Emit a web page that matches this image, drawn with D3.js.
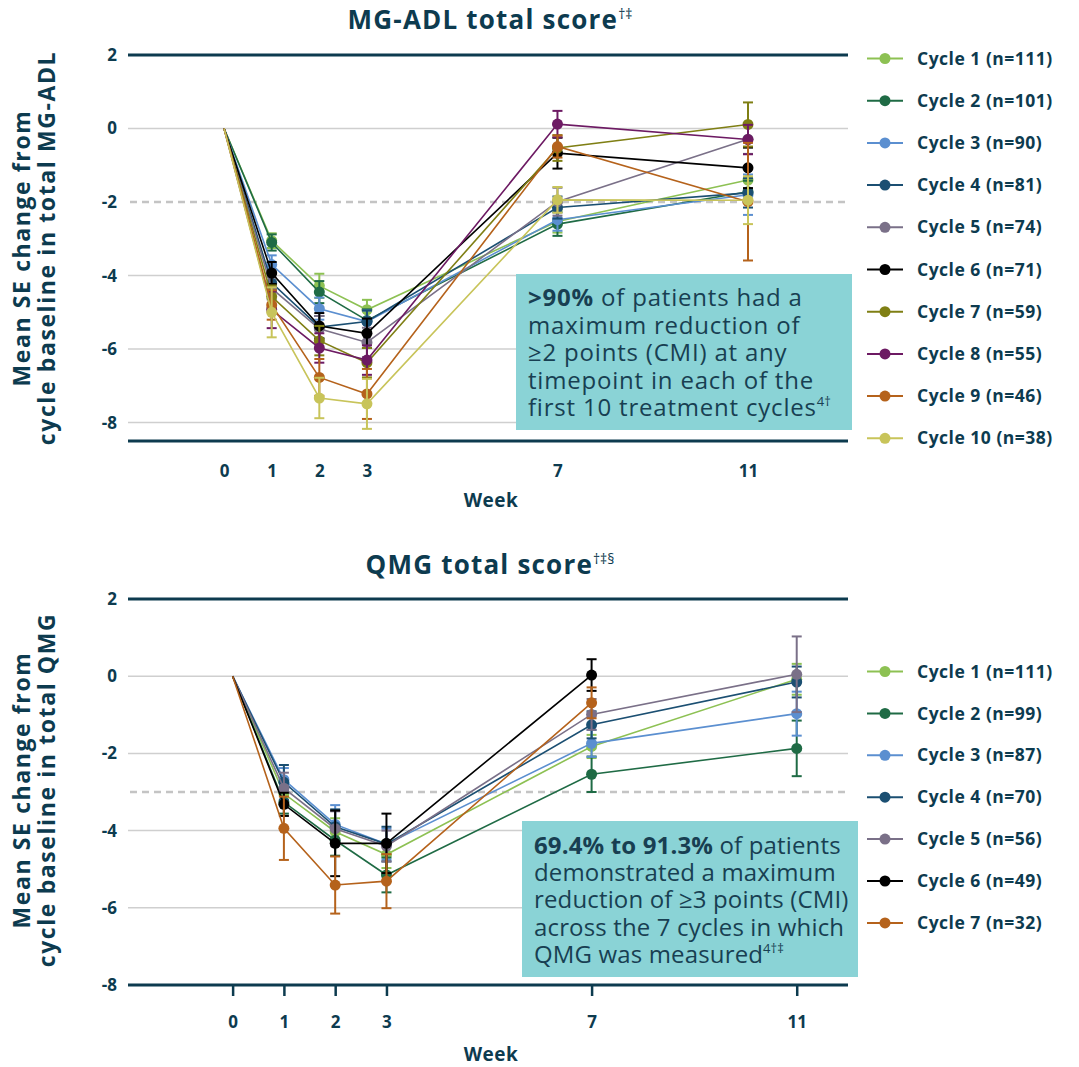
<!DOCTYPE html>
<html>
<head>
<meta charset="utf-8">
<script src="https://cdn.jsdelivr.net/npm/d3@7"></script>
<style>
  body { margin: 0; background: #fff; }
  svg { display: block; font-family: "Open Sans", sans-serif; }
</style>
</head>
<body>
<div id="chart"></div>
<script>
// weeks on the x axis
const weeks = [0, 1, 2, 3, 7, 11];
const yTicksTop = [2, 0, -2, -4, -6, -8];
const yTicksBottom = [2, 0, -2, -4, -6, -8];

// MG-ADL (top) - mean change per cycle
const adlLabels = ['Cycle 1 (n=111)', 'Cycle 2 (n=101)', 'Cycle 3 (n=90)', 'Cycle 4 (n=81)', 'Cycle 5 (n=74)',
  'Cycle 6 (n=71)', 'Cycle 7 (n=59)', 'Cycle 8 (n=55)', 'Cycle 9 (n=46)', 'Cycle 10 (n=38)'];
const adlC1 = [0, -3.05, -4.28, -4.93, -2.53, -1.40];
const adlC2 = [0, -3.10, -4.45, -5.22, -2.60, -1.72];
const adlC3 = [0, -3.70, -4.90, -5.25, -2.48, -1.80];
const adlC4 = [0, -4.20, -5.40, -5.25, -2.15, -1.75];
const adlC5 = [0, -4.35, -5.45, -5.82, -1.99, -0.29];
const adlC6 = [0, -3.93, -5.37, -5.57, -0.67, -1.07];
const adlC7 = [0, -4.57, -5.77, -6.37, -0.53, 0.11];
const adlC8 = [0, -4.93, -5.97, -6.30, 0.12, -0.30];
const adlC9 = [0, -4.80, -6.77, -7.22, -0.49, -1.99];
const adlC10 = [0, -5.00, -7.33, -7.49, -1.94, -1.95];
// standard errors
const adlSe1 = [0, 0.20, 0.33, 0.27, 0.30, 0.35];
const adlSe2 = [0, 0.22, 0.30, 0.30, 0.32, 0.30];
const adlSe3 = [0, 0.25, 0.30, 0.30, 0.30, 0.55];
const adlSe4 = [0, 0.25, 0.30, 0.30, 0.30, 0.40];
const adlSe5 = [0, 0.30, 0.35, 0.40, 0.38, 0.40];
const adlSe6 = [0, 0.30, 0.35, 0.40, 0.42, 0.55];
const adlSe7 = [0, 0.30, 0.40, 0.40, 0.35, 0.60];
const adlSe8 = [0, 0.50, 0.40, 0.40, 0.36, 0.40];
const adlSe9 = [0, 0.40, 0.50, 0.68, 0.30, 1.60];
const adlSe10 = [0, 0.68, 0.55, 0.68, 0.35, 0.65];

// QMG (bottom)
const qmgLabels = ['Cycle 1 (n=111)', 'Cycle 2 (n=99)', 'Cycle 3 (n=87)', 'Cycle 4 (n=70)', 'Cycle 5 (n=56)',
  'Cycle 6 (n=49)', 'Cycle 7 (n=32)'];
const qmgC1 = [0, -3.04, -4.03, -4.62, -1.82, -0.08];
const qmgC2 = [0, -3.26, -4.25, -5.15, -2.54, -1.87];
const qmgC3 = [0, -2.68, -3.84, -4.35, -1.74, -0.97];
const qmgC4 = [0, -2.75, -3.90, -4.35, -1.26, -0.15];
const qmgC5 = [0, -2.90, -3.95, -4.40, -0.99, 0.05];
const qmgC6 = [0, -3.32, -4.33, -4.33, 0.03];
const qmgC7 = [0, -3.94, -5.41, -5.31, -0.69];
const qmgSe1 = [0, 0.30, 0.35, 0.35, 0.30, 0.40];
const qmgSe2 = [0, 0.30, 0.40, 0.45, 0.46, 0.72];
const qmgSe3 = [0, 0.30, 0.50, 0.40, 0.35, 0.57];
const qmgSe4 = [0, 0.45, 0.45, 0.45, 0.35, 0.40];
const qmgSe5 = [0, 0.40, 0.45, 0.40, 0.40, 0.98];
const qmgSe6 = [0, 0.30, 0.85, 0.77, 0.41];
const qmgSe7 = [0, 0.82, 0.74, 0.70, 0.40];

const colors = ['#8dc153', '#1f6b45', '#5b8fd0', '#1b4f72', '#7a7088',
  '#000000', '#7f7f14', '#6d1a63', '#b5621b', '#c8c45a'];
const qmgColors = ['#8dc153', '#1f6b45', '#5b8fd0', '#1b4f72', '#7a7088', '#000000', '#b5621b'];

const dark = '#0d3b4f';

const svg = d3.select('#chart').append('svg')
  .attr('width', 1079)
  .attr('height', 1067);

function makeSeries(labels, means, ses, cols) {
  return labels.map((label, i) => ({
    label,
    color: cols[i],
    points: means[i].map((v, j) => ({ week: weeks[j], mean: v, se: ses[i][j] }))
  }));
}

function drawPanel(cfg) {
  const g = svg.append('g');
  const x = d3.scaleLinear().domain(cfg.xDomain).range([128, 848]);
  const y = d3.scaleLinear().domain(cfg.yDomain).range(cfg.yRange);

  // title
  const title = g.append('text')
    .attr('x', 490).attr('y', cfg.titleY)
    .attr('text-anchor', 'middle')
    .style('font-size', '26px').style('font-weight', 700).style('fill', dark)
    .style('letter-spacing', '1.2px')
    .text(cfg.title);
  title.append('tspan').attr('dy', -10).style('font-size', '14px').style('font-weight', 400)
    .style('letter-spacing', '0px').text(cfg.titleSup);

  // grid
  g.selectAll('.grid').data(cfg.grid).join('line')
    .attr('x1', 128).attr('x2', 848)
    .attr('y1', d => y(d)).attr('y2', d => y(d))
    .attr('stroke', '#cfcfcf').attr('stroke-width', 1.5);

  g.append('line')
    .attr('x1', 130).attr('x2', 848)
    .attr('y1', y(cfg.cmi)).attr('y2', y(cfg.cmi))
    .attr('stroke', '#c4c4c4').attr('stroke-width', 2.5).attr('stroke-dasharray', '7,5');

  // dark frame lines at top and x axis
  [cfg.yDomain[1], cfg.yDomain[0]].forEach(v => {
    g.append('line')
      .attr('x1', 128).attr('x2', 848)
      .attr('y1', y(v)).attr('y2', y(v))
      .attr('stroke', dark).attr('stroke-width', 3);
  });

  // y tick labels
  g.selectAll('.ylab').data(cfg.yTicks).join('text')
    .attr('x', 117).attr('y', d => y(d))
    .attr('dy', '0.35em').attr('text-anchor', 'end')
    .style('font-size', '17px').style('font-weight', 700).style('fill', dark)
    .text(d => d);

  // x axis
  const xAxis = g.append('g')
    .attr('transform', `translate(0,${y(cfg.yDomain[0])})`)
    .call(d3.axisBottom(x).tickValues(weeks).tickSize(cfg.tickLen).tickPadding(cfg.tickPad).tickFormat(d3.format('d')));
  xAxis.select('.domain').remove();
  xAxis.selectAll('.tick line').attr('stroke', dark).attr('stroke-width', 2.5);
  xAxis.selectAll('.tick text')
    .style('font-size', '17px').style('font-weight', 700).style('fill', dark)
    .style('font-family', '"Open Sans", sans-serif');

  g.append('text')
    .attr('x', 491).attr('y', cfg.weekY).attr('dy', '0.35em')
    .attr('text-anchor', 'middle')
    .style('font-size', '19px').style('font-weight', 700).style('fill', dark)
    .style('letter-spacing', '0.5px')
    .text('Week');

  // y title
  const yt = g.append('text')
    .attr('transform', `translate(0,${cfg.yTitleY}) rotate(-90)`)
    .attr('text-anchor', 'middle')
    .style('font-size', '23px').style('font-weight', 700).style('fill', dark)
    .style('letter-spacing', '1.6px');
  yt.append('tspan').attr('x', 0).attr('y', 30).text('Mean SE change from');
  yt.append('tspan').attr('x', 0).attr('y', 55).text(cfg.yTitle2);

  // annotation box
  const b = cfg.box;
  g.append('rect')
    .attr('x', b.x).attr('y', b.y).attr('width', b.w).attr('height', b.h)
    .attr('fill', '#8ad3d6');
  const at = g.append('text')
    .style('font-size', '24px').style('fill', '#183f52')
    .style('letter-spacing', b.ls);
  b.lines.forEach((ln, i) => {
    const t = at.append('tspan').attr('x', b.x + 12).attr('y', b.firstY + i * b.lh);
    if (i === 0) {
      t.style('font-weight', 700).text(b.bold);
      at.append('tspan').text(ln);
    } else if (i === b.lines.length - 1) {
      t.text(ln);
      at.append('tspan').attr('dy', -10).style('font-size', '13px').style('letter-spacing', '0px').text(b.sup);
    } else {
      t.text(ln);
    }
  });

  // series
  const line = d3.line().x(d => x(d.week)).y(d => y(d.mean));
  cfg.series.forEach(s => {
    const sg = g.append('g');
    sg.append('path').datum(s.points)
      .attr('d', line).attr('fill', 'none')
      .attr('stroke', s.color).attr('stroke-width', 1.6);
    const pts = s.points.filter(d => d.week > 0);
    const eb = sg.selectAll('.eb').data(pts).join('g');
    eb.append('line')
      .attr('x1', d => x(d.week)).attr('x2', d => x(d.week))
      .attr('y1', d => y(d.mean - d.se)).attr('y2', d => y(d.mean + d.se))
      .attr('stroke', s.color).attr('stroke-width', 2);
    [-1, 1].forEach(k => {
      eb.append('line')
        .attr('x1', d => x(d.week) - 5).attr('x2', d => x(d.week) + 5)
        .attr('y1', d => y(d.mean + k * d.se)).attr('y2', d => y(d.mean + k * d.se))
        .attr('stroke', s.color).attr('stroke-width', 2);
    });
    sg.selectAll('circle').data(pts).join('circle')
      .attr('cx', d => x(d.week)).attr('cy', d => y(d.mean))
      .attr('r', 5.5).attr('fill', s.color);
  });

  // legend
  const lg = g.append('g');
  const items = lg.selectAll('g').data(cfg.series).join('g')
    .attr('transform', (d, i) => `translate(867,${cfg.legendY + i * cfg.legendStep})`);
  items.append('line').attr('x1', 0).attr('x2', 36)
    .attr('stroke', d => d.color).attr('stroke-width', 2);
  items.append('circle').attr('cx', 18).attr('r', 5.5).attr('fill', d => d.color);
  items.append('text').attr('x', 50).attr('dy', '0.35em')
    .style('font-size', '17.5px').style('font-weight', 700).style('fill', dark)
    .style('letter-spacing', '0.5px')
    .text(d => d.label);
}

drawPanel({
  title: 'MG-ADL total score', titleSup: '†‡', titleY: 29,
  xDomain: [-2.017, 13.1], yDomain: [-8.5, 2], yRange: [441, 55],
  grid: [0, -4, -6, -8], cmi: -2, yTicks: yTicksTop,
  tickLen: 0, tickPad: 24, weekY: 500,
  yTitleY: 248, yTitle2: 'cycle baseline in total MG-ADL',
  box: {
    x: 516, y: 274, w: 336, h: 156, firstY: 306, lh: 27.5, ls: '0.8px',
    bold: '>90%', sup: '4†',
    lines: [' of patients had a', 'maximum reduction of', '≥2 points (CMI) at any',
      'timepoint in each of the', 'first 10 treatment cycles']
  },
  legendY: 58.5, legendStep: 42.2,
  series: makeSeries(adlLabels,
    [adlC1, adlC2, adlC3, adlC4, adlC5, adlC6, adlC7, adlC8, adlC9, adlC10],
    [adlSe1, adlSe2, adlSe3, adlSe4, adlSe5, adlSe6, adlSe7, adlSe8, adlSe9, adlSe10],
    colors)
});

drawPanel({
  title: 'QMG total score', titleSup: '†‡§', titleY: 574,
  xDomain: [-2.04, 12.0], yDomain: [-8, 2], yRange: [985, 599],
  grid: [0, -2, -4, -6], cmi: -3, yTicks: yTicksBottom,
  tickLen: 11, tickPad: 20, weekY: 1054,
  yTitleY: 790, yTitle2: 'cycle baseline in total QMG',
  box: {
    x: 522, y: 821, w: 336, h: 156, firstY: 854, lh: 27.2, ls: '0.15px',
    bold: '69.4% to 91.3%', sup: '4†‡',
    lines: [' of patients', 'demonstrated a maximum', 'reduction of ≥3 points (CMI)',
      'across the 7 cycles in which', 'QMG was measured']
  },
  legendY: 671.5, legendStep: 41.9,
  series: makeSeries(qmgLabels,
    [qmgC1, qmgC2, qmgC3, qmgC4, qmgC5, qmgC6, qmgC7],
    [qmgSe1, qmgSe2, qmgSe3, qmgSe4, qmgSe5, qmgSe6, qmgSe7],
    qmgColors)
});
</script>
</body>
</html>
